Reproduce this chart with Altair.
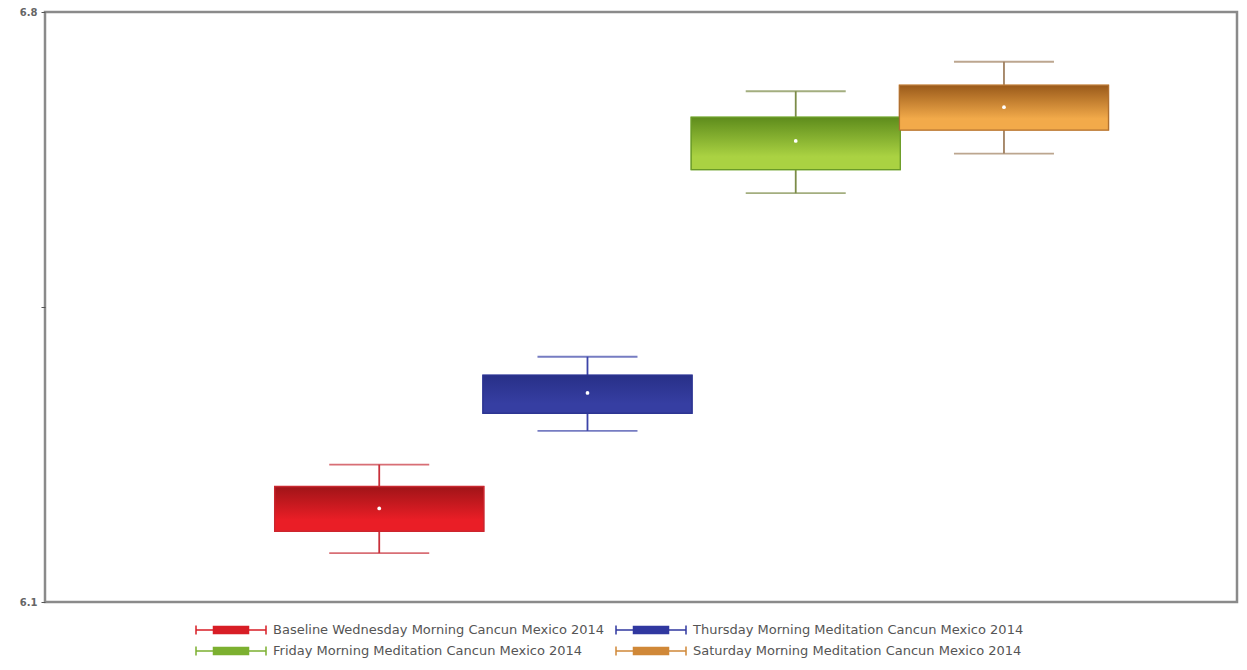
import altair as alt
import pandas as pd

# ---- data ----
labels = [
    "Baseline Wednesday Morning Cancun Mexico 2014",
    "Thursday Morning Meditation Cancun Mexico 2014",
    "Friday Morning Meditation Cancun Mexico 2014",
    "Saturday Morning Meditation Cancun Mexico 2014",
]
idx = [1, 2, 3, 4]
whisker_low = [6.158, 6.303, 6.585, 6.632]
q1 = [6.184, 6.324, 6.613, 6.660]
mean = [6.211, 6.348, 6.647, 6.687]
q3 = [6.237, 6.369, 6.675, 6.713]
whisker_high = [6.263, 6.391, 6.706, 6.741]
y_ticks = [6.1, 6.45, 6.8]

# ---- styling ----
legend_colors = ["#d81e26", "#3038a0", "#7cb030", "#d08838"]
whisker_colors = ["#c8303a", "#3c44a8", "#7c8c48", "#a08060"]
grad_top = ["#a01418", "#283088", "#5e8c1c", "#9a5a1a"]
grad_bottom = ["#ea1e26", "#363ea2", "#aad242", "#f2aa4a"]
box_stroke = ["#c82830", "#2c348e", "#6a9a28", "#b07030"]

df = pd.DataFrame({
    "label": labels, "idx": idx, "wlo": whisker_low, "q1": q1,
    "mean": mean, "q3": q3, "whi": whisker_high,
})

W, H = 1192, 590
xscale = alt.Scale(domain=[-0.581, 5.095], nice=False, zero=False)
yscale = alt.Scale(domain=[6.1, 6.8], nice=False, zero=False)

x_enc = alt.X("idx:Q", scale=xscale, axis=None)
y_axis = alt.Axis(
    values=y_ticks, title=None, grid=False, domain=False, format=".1f",
    labelExpr="datum.value > 6.2 && datum.value < 6.7 ? '' : datum.label",
    labelFont="DejaVu Sans", labelFontSize=10, labelFontWeight="bold",
    labelColor="#666666", tickColor="#555555", tickSize=4, labelPadding=4,
)

base = alt.Chart(df)

legend_path = ("M-1,-0.13L-1,0.13M-1,0L-0.5,0M-0.5,-0.1L0.5,-0.1L0.5,0.1L-0.5,0.1Z"
               "M0.5,0L1,0M1,-0.13L1,0.13")
cscale = alt.Scale(domain=labels, range=legend_colors)
legend = alt.Legend(
    title=None, orient="none", legendX=150, legendY=582, columns=2,
    direction="horizontal", gridAlign="none", symbolType=legend_path,
    symbolSize=4900, symbolStrokeWidth=1.5, rowPadding=-23, columnPadding=8,
    labelOffset=6, labelFont="DejaVu Sans", labelFontSize=13,
    labelColor="#555555", labelLimit=600,
)

box_legend = base.mark_bar(size=209, orient="vertical", strokeWidth=1.5).encode(
    x=x_enc, y=alt.Y("q1:Q", scale=yscale, axis=y_axis), y2="q3:Q",
    fill=alt.Fill("label:N", scale=cscale, legend=legend),
    stroke=alt.Stroke("label:N", scale=cscale, legend=legend),
)

whisker_layers = []
grad_layers = []
for i, lab in enumerate(labels):
    sub = base.transform_filter(alt.datum.label == lab)
    whisker_layers.append(
        sub.mark_rule(strokeWidth=1.8, color=whisker_colors[i]).encode(
            x=x_enc, y=alt.Y("wlo:Q", scale=yscale), y2="whi:Q")
    )
    whisker_layers.append(
        sub.mark_tick(orient="horizontal", size=100, thickness=1.8, color=whisker_colors[i]).encode(
            x=x_enc, y=alt.Y("wlo:Q", scale=yscale))
    )
    whisker_layers.append(
        sub.mark_tick(orient="horizontal", size=100, thickness=1.8, color=whisker_colors[i]).encode(
            x=x_enc, y=alt.Y("whi:Q", scale=yscale))
    )
    grad = alt.Gradient(
        gradient="linear", x1=0, y1=0, x2=0, y2=1,
        stops=[alt.GradientStop(color=grad_top[i], offset=0),
               alt.GradientStop(color=grad_bottom[i], offset=0.75),
               alt.GradientStop(color=grad_bottom[i], offset=1)],
    )
    grad_layers.append(
        sub.mark_bar(size=209, orient="vertical", fill=grad, stroke=box_stroke[i], strokeWidth=1.2)
        .encode(x=x_enc, y=alt.Y("q1:Q", scale=yscale), y2="q3:Q")
    )

mean_dot = base.mark_point(filled=True, color="white", size=14, opacity=1).encode(
    x=x_enc, y=alt.Y("mean:Q", scale=yscale),
)

chart = alt.layer(*whisker_layers, box_legend, *grad_layers, mean_dot).properties(
    width=W, height=H,
    autosize=alt.AutoSizeParams(type="none"),
    padding={"left": 37, "top": 4, "right": 2, "bottom": 57},
    background="white",
).configure_view(stroke="#8a8a8a", strokeWidth=2.5)

chart.save("out.html", embed_options={"renderer": "svg", "actions": False})
